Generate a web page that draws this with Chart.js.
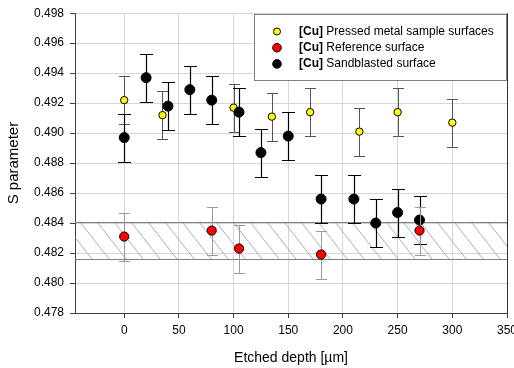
<!DOCTYPE html>
<html>
<head>
<meta charset="utf-8">
<script src="https://cdn.jsdelivr.net/npm/chart.js@4.4.1/dist/chart.umd.min.js"></script>
<style>
  html, body { margin: 0; padding: 0; background: #fff; }
  #wrap { width: 514px; height: 368px; }
</style>
</head>
<body>
<div id="wrap"><canvas id="sChart" width="514" height="368"></canvas></div>
<script>
// S parameter vs etched depth
const depthPressed = [0, 35, 100, 135, 170, 215, 250, 300];
const sPressed     = [0.4922, 0.4912, 0.4917, 0.4911, 0.4914, 0.4901, 0.4914, 0.4907];
const errPressed   = [0.0016, 0.0016, 0.0016, 0.0016, 0.0016, 0.0016, 0.0016, 0.0016];

const depthRef = [0, 80, 105, 180, 270];
const sRef     = [0.4831, 0.4835, 0.4823, 0.4819, 0.4835];
const errRef   = [0.0016, 0.0016, 0.0016, 0.0016, 0.0016];

const depthSand = [0, 20, 40, 60, 80, 105, 125, 150, 180, 210, 230, 250, 270];
const sSand     = [0.4897, 0.4937, 0.4918, 0.4929, 0.4922, 0.4914, 0.4887, 0.4898, 0.4856, 0.4856, 0.4840, 0.4847, 0.4842];
const errSand   = [0.0016, 0.0016, 0.0016, 0.0016, 0.0016, 0.0016, 0.0016, 0.0016, 0.0016, 0.0016, 0.0016, 0.0016, 0.0016];

// hatched band (reference surface range)
const bandLow = 0.4816;
const bandHigh = 0.4841;

const xTicks = [0, 50, 100, 150, 200, 250, 300, 350];
const yTicks = [0.478, 0.480, 0.482, 0.484, 0.486, 0.488, 0.490, 0.492, 0.494, 0.496, 0.498];

const legendLabels = ['Pressed metal sample surfaces', 'Reference surface', 'Sandblasted surface'];

const FONT = "'Liberation Sans', Arial, sans-serif";
Chart.defaults.font.family = FONT;
Chart.defaults.color = '#000';

const toPoints = (xs, ys) => xs.map((x, i) => ({ x: x, y: ys[i] }));

// hatched band behind the points
const bandPlugin = {
  id: 'band',
  beforeDatasetsDraw(chart) {
    const { ctx, chartArea: a, scales: { y } } = chart;
    const top = y.getPixelForValue(bandHigh);
    const bot = y.getPixelForValue(bandLow);
    const dx = (bot - top) * 0.78;
    ctx.save();
    ctx.beginPath();
    ctx.rect(a.left, top, a.right - a.left, bot - top);
    ctx.clip();
    ctx.strokeStyle = '#9a9a9a';
    ctx.lineWidth = 0.8;
    ctx.beginPath();
    for (let x = a.left - dx; x < a.right + 17; x += 17) {
      ctx.moveTo(x, top);
      ctx.lineTo(x + dx, bot);
    }
    ctx.stroke();
    ctx.restore();

    ctx.save();
    ctx.strokeStyle = '#808080';
    ctx.lineWidth = 1;
    ctx.beginPath();
    ctx.moveTo(a.left, Math.round(top) + 0.5);
    ctx.lineTo(a.right, Math.round(top) + 0.5);
    ctx.moveTo(a.left, Math.round(bot) + 0.5);
    ctx.lineTo(a.right, Math.round(bot) + 0.5);
    ctx.stroke();
    ctx.restore();
  }
};

// vertical error bars, drawn just under each dataset's points
const errorBarPlugin = {
  id: 'errorBars',
  beforeDatasetDraw(chart, args) {
    const ds = chart.data.datasets[args.index];
    if (!ds.errors) return;
    const { ctx, scales: { x, y } } = chart;
    const c = ds.capWidth / 2;
    ctx.save();
    ctx.strokeStyle = ds.errorColor;
    ctx.lineWidth = ds.errorWidth;
    ctx.beginPath();
    ds.data.forEach((p, i) => {
      const px = Math.round(x.getPixelForValue(p.x)) + 0.5;
      const hi = Math.round(y.getPixelForValue(p.y + ds.errors[i])) + 0.5;
      const lo = Math.round(y.getPixelForValue(p.y - ds.errors[i])) + 0.5;
      ctx.moveTo(px, hi); ctx.lineTo(px, lo);
      ctx.moveTo(px - c, hi); ctx.lineTo(px + c, hi);
      ctx.moveTo(px - c, lo); ctx.lineTo(px + c, lo);
    });
    ctx.stroke();
    ctx.restore();
  }
};

// boxed legend in the top right corner, plus the dark right edge of the plot
const boxLegendPlugin = {
  id: 'boxLegend',
  afterDraw(chart) {
    const { ctx, chartArea: a } = chart;
    const w = 253, h = 67;
    const left = Math.round(a.right) - w, top = Math.round(a.top) + 1;
    ctx.save();
    ctx.fillStyle = '#fff';
    ctx.fillRect(left, top, w, h);
    ctx.strokeStyle = '#808080';
    ctx.lineWidth = 1;
    ctx.strokeRect(left + 0.5, top + 0.5, w - 1, h - 1);

    [0, 1, 2].forEach(row => {
      const ds = chart.data.datasets[row];
      const cy = top + 17.5 + row * 16.2;
      ctx.beginPath();
      ctx.arc(left + 23, cy, ds.legendRadius, 0, Math.PI * 2);
      ctx.fillStyle = ds.pointBackgroundColor;
      ctx.fill();
      ctx.strokeStyle = '#000';
      ctx.lineWidth = 1;
      ctx.stroke();

      ctx.fillStyle = '#000';
      ctx.textBaseline = 'middle';
      ctx.font = 'bold 12px ' + FONT;
      ctx.fillText('[Cu]', left + 45, cy);
      const wb = ctx.measureText('[Cu]').width;
      ctx.font = '12px ' + FONT;
      ctx.fillText(' ' + legendLabels[row], left + 45 + wb, cy);
    });

    ctx.strokeStyle = '#303030';
    ctx.beginPath();
    ctx.moveTo(Math.round(a.right) + 0.5, a.top);
    ctx.lineTo(Math.round(a.right) + 0.5, a.bottom);
    ctx.stroke();
    ctx.restore();
  }
};

const ctx = document.getElementById('sChart').getContext('2d');
new Chart(ctx, {
  type: 'scatter',
  data: {
    datasets: [{
      label: legendLabels[0],
      data: toPoints(depthPressed, sPressed),
      errors: errPressed,
      errorColor: '#555555',
      errorWidth: 1,
      capWidth: 11,
      pointRadius: 3.7,
      legendRadius: 3.5,
      pointBackgroundColor: '#ffff00',
      pointBorderColor: '#000',
      pointBorderWidth: 1,
      order: 3
    }, {
      label: legendLabels[1],
      data: toPoints(depthRef, sRef),
      errors: errRef,
      errorColor: '#9a9a9a',
      errorWidth: 1,
      capWidth: 11,
      pointRadius: 4.6,
      legendRadius: 4.3,
      pointBackgroundColor: '#ff0000',
      pointBorderColor: '#000',
      pointBorderWidth: 1,
      order: 1
    }, {
      label: legendLabels[2],
      data: toPoints(depthSand, sSand),
      errors: errSand,
      errorColor: '#000',
      errorWidth: 1.2,
      capWidth: 13,
      pointRadius: 5,
      legendRadius: 4.3,
      pointBackgroundColor: '#000',
      pointBorderColor: '#000',
      pointBorderWidth: 1,
      order: 2
    }]
  },
  options: {
    responsive: false,
    animation: false,
    devicePixelRatio: 1,
    layout: { padding: { top: 11, right: 7, left: 0, bottom: 0 } },
    plugins: {
      legend: { display: false },
      tooltip: { enabled: false }
    },
    scales: {
      x: {
        type: 'linear',
        min: -45,
        max: 350,
        afterBuildTicks: s => { s.ticks = xTicks.map(v => ({ value: v })); },
        afterFit: s => { s.height = 55; s.paddingLeft = 0; s.paddingRight = 0; },
        ticks: { color: '#000', font: { size: 12 }, padding: 5 },
        grid: { color: '#d6d6d6', tickColor: '#404040', tickLength: 5 },
        border: { color: '#404040' },
        title: { display: true, text: 'Etched depth [µm]', color: '#000', font: { size: 14 }, padding: { top: 0, bottom: 1 } }
      },
      y: {
        min: 0.478,
        max: 0.498,
        afterBuildTicks: s => { s.ticks = yTicks.map(v => ({ value: v })); },
        afterFit: s => { s.width = 75; },
        ticks: { color: '#000', font: { size: 12 }, padding: 6, callback: v => v.toFixed(3) },
        grid: { color: '#d6d6d6', tickColor: '#404040', tickLength: 5 },
        border: { color: '#404040' },
        title: { display: true, text: 'S parameter', color: '#000', font: { size: 15 }, padding: { top: 5, bottom: 0 } }
      }
    }
  },
  plugins: [bandPlugin, errorBarPlugin, boxLegendPlugin]
});
</script>
</body>
</html>
